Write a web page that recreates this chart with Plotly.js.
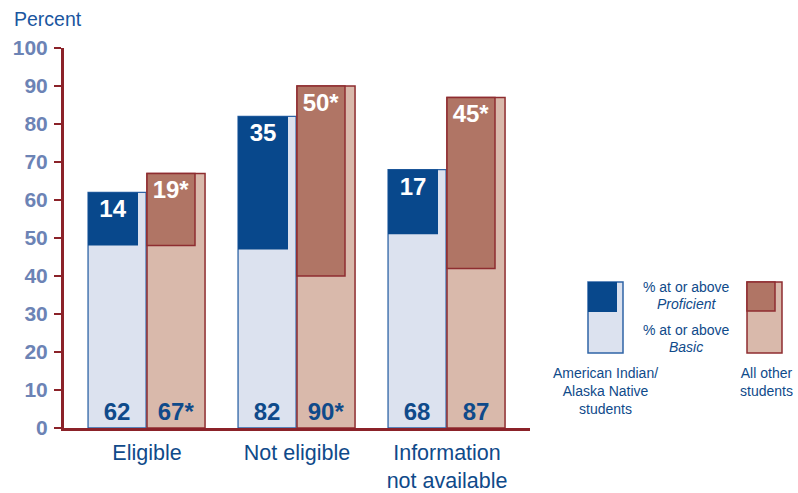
<!DOCTYPE html>
<html>
<head>
<meta charset="utf-8">
<script src="https://cdn.plot.ly/plotly-3.0.1.min.js"></script>
<style>html,body{margin:0;padding:0;background:#fff;}#chart{width:798px;height:493px;}</style>
</head>
<body>
<div id="chart"></div>
<script>
// ---- data ----
const categories = ["Eligible", "Not eligible", "Information<br>not available"];
const aianBasic = [62, 82, 68];
const aianProficient = [14, 35, 17];
const otherBasic = [67, 90, 87];
const otherProficient = [19, 50, 45];
const aianBasicLabels = ["62", "82", "68"];
const aianProficientLabels = ["14", "35", "17"];
const otherBasicLabels = ["67*", "90*", "87"];
const otherProficientLabels = ["19*", "50*", "45*"];
const yTicks = [0, 10, 20, 30, 40, 50, 60, 70, 80, 90, 100];

// ---- styles ----
const FONT = "Liberation Sans, Arial, sans-serif";
const AI_DARK = "#08488c", AI_LIGHT = "#dce2ef", AI_LINE = "#2f64a6";
const OT_DARK = "#b07565", OT_LIGHT = "#d9b9ab", OT_LINE = "#8e2d30";
const AXIS = "#8b2229", TICKC = "#6c83b5", TXT = "#0f4a8a";

const xPos = categories.map((c, i) => i);
const L = 64, R = 530, T = 48, B = 428;
const PX = x => (x - L) / (R - L);
const PY = y => (B - y) / (B - T);

const traces = [
  {type: "bar", x: xPos, y: aianBasic, offset: -0.393, width: 0.387,
   marker: {color: AI_LIGHT, line: {color: AI_LINE, width: 1.3}},
   text: aianBasicLabels, textposition: "inside", insidetextanchor: "start",
   constraintext: "none", textangle: 0,
   textfont: {family: FONT, size: 24, weight: "bold", color: TXT}, hoverinfo: "skip"},
  {type: "bar", x: xPos, y: otherBasic, offset: 0.0, width: 0.387,
   marker: {color: OT_LIGHT, line: {color: OT_LINE, width: 1.5}},
   text: otherBasicLabels, textposition: "inside", insidetextanchor: "start",
   constraintext: "none", textangle: 0,
   textfont: {family: FONT, size: 24, weight: "bold", color: TXT}, hoverinfo: "skip"},
  {type: "bar", x: xPos, y: aianProficient, base: aianBasic.map((b, i) => b - aianProficient[i]),
   offset: -0.393, width: 0.333,
   marker: {color: AI_DARK, line: {color: AI_DARK, width: 0}},
   text: aianProficientLabels, textposition: "inside", insidetextanchor: "end",
   constraintext: "none", textangle: 0,
   textfont: {family: FONT, size: 24, weight: "bold", color: "#ffffff"}, hoverinfo: "skip"},
  {type: "bar", x: xPos, y: otherProficient, base: otherBasic.map((b, i) => b - otherProficient[i]),
   offset: 0.0, width: 0.32,
   marker: {color: OT_DARK, line: {color: OT_LINE, width: 1.5}},
   text: otherProficientLabels, textposition: "inside", insidetextanchor: "end",
   constraintext: "none", textangle: 0,
   textfont: {family: FONT, size: 24, weight: "bold", color: "#ffffff"}, hoverinfo: "skip"}
];

const legFont = {family: FONT, size: 14, color: TXT};
const ann = (x, y, text, extra) => Object.assign({xref: "paper", yref: "paper", x: PX(x), y: PY(y),
  text: text, showarrow: false, xanchor: "center", yanchor: "middle", font: legFont}, extra || {});

const layout = {
  width: 798, height: 493,
  margin: {l: L, r: 798 - R, t: T, b: 493 - B},
  paper_bgcolor: "#ffffff", plot_bgcolor: "#ffffff",
  barmode: "overlay", showlegend: false,
  xaxis: {range: [-0.5533, 2.5533], tickvals: xPos, ticktext: categories,
    showline: true, linecolor: AXIS, linewidth: 3, ticks: "", showgrid: false, zeroline: false,
    ticklabelstandoff: 3,
    tickfont: {family: FONT, size: 21.5, color: TXT}, fixedrange: true},
  yaxis: {range: [0, 100], tickvals: yTicks, showline: true, linecolor: AXIS, linewidth: 3,
    ticks: "outside", ticklen: 7, tickwidth: 2, tickcolor: AXIS, ticklabelstandoff: 2,
    showgrid: false, zeroline: false,
    tickfont: {family: FONT, size: 21, weight: "bold", color: TICKC}, fixedrange: true},
  annotations: [
    ann(12, 19, "Percent", {xanchor: "left", font: {family: FONT, size: 19.5, color: "#1a56a0"}}),
    ann(686, 287, "% at or above"),
    ann(686, 304, "<i>Proficient</i>"),
    ann(686, 330, "% at or above"),
    ann(686, 347, "<i>Basic</i>"),
    ann(605, 391, "American Indian/<br>Alaska Native<br>students"),
    ann(766, 382, "All other<br>students")
  ],
  shapes: [
    {type: "rect", xref: "paper", yref: "paper", x0: PX(588), x1: PX(623), y0: PY(353), y1: PY(282),
     fillcolor: AI_LIGHT, line: {color: AI_LINE, width: 1.5}},
    {type: "rect", xref: "paper", yref: "paper", x0: PX(588), x1: PX(617), y0: PY(312), y1: PY(282),
     fillcolor: AI_DARK, line: {color: AI_DARK, width: 0}},
    {type: "rect", xref: "paper", yref: "paper", x0: PX(747), x1: PX(782), y0: PY(353), y1: PY(282),
     fillcolor: OT_LIGHT, line: {color: OT_LINE, width: 1.5}},
    {type: "rect", xref: "paper", yref: "paper", x0: PX(747), x1: PX(775), y0: PY(311), y1: PY(282),
     fillcolor: OT_DARK, line: {color: OT_LINE, width: 1.5}}
  ]
};

Plotly.newPlot("chart", traces, layout, {staticPlot: true, displayModeBar: false});
</script>
</body>
</html>
